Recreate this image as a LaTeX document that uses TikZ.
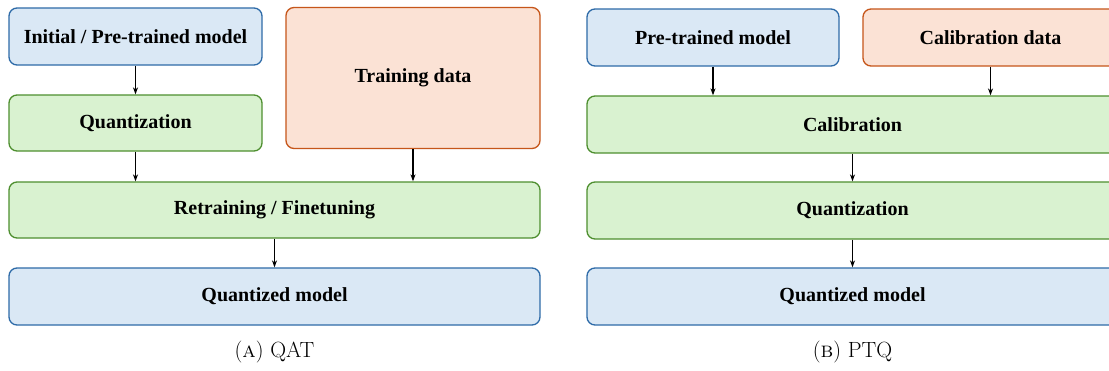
\documentclass[tikz,border=0pt]{standalone}
\usepackage{fontspec}
\newfontfamily\boxfont{Liberation Serif}
\usetikzlibrary{arrows.meta,calc}
\definecolor{bfill}{HTML}{DAE8F5}
\definecolor{bdraw}{HTML}{2E6BA8}
\definecolor{gfill}{HTML}{D9F2D0}
\definecolor{gdraw}{HTML}{4E8F2F}
\definecolor{ofill}{HTML}{FBE2D5}
\definecolor{odraw}{HTML}{C6561A}
\tikzset{
  box/.style={rectangle, rounded corners=8pt, line width=1.3pt, inner sep=0pt,
    font=\boxfont\bfseries\fontsize{20}{24}\selectfont, text=black},
  bluebox/.style={box, fill=bfill, draw=bdraw},
  greenbox/.style={box, fill=gfill, draw=gdraw},
  orangebox/.style={box, fill=ofill, draw=odraw},
  arr/.style={line width=1.3pt, -{Stealth[length=7pt,width=5pt]}},
  captext/.style={font=\fontsize{22}{26}\selectfont}
}
\begin{document}
\begin{tikzpicture}[x=1pt,y=-1pt]
\clip (0,0) rectangle (1109,370);
\fill[white] (0,0) rectangle (1109,370);
% (a) QAT
\node[bluebox, minimum width=253pt, minimum height=57pt] (init) at (135.5,36.5) {Initial / Pre-trained model};
\node[greenbox, minimum width=253pt, minimum height=56pt] (quant) at (135.5,123) {Quantization};
\node[orangebox, minimum width=254pt, minimum height=141pt] (train) at (413,78) {Training data};
\node[greenbox, minimum width=531pt, minimum height=56pt] (retrain) at (274.5,210) {Retraining / Finetuning};
\node[bluebox, minimum width=531pt, minimum height=57pt] (qmodel) at (274.5,296.5) {Quantized model};
\node[captext] (capa) at (274.5,352) {(\textsc{a}) QAT};
\draw[arr] (init.south) -- (quant.north);
\draw[arr] (quant.south) -- (quant.south |- retrain.north);
\draw[arr] (train.south) -- (train.south |- retrain.north);
\draw[arr] (retrain.south) -- (qmodel.north);
% (b) PTQ
\node[bluebox, minimum width=252pt, minimum height=57pt] (pre) at (713,37.5) {Pre-trained model};
\node[orangebox, minimum width=255pt, minimum height=57pt] (cdata) at (990.5,37.5) {Calibration data};
\node[greenbox, minimum width=531pt, minimum height=57pt] (calib) at (852.5,124.5) {Calibration};
\node[greenbox, minimum width=531pt, minimum height=57pt] (pquant) at (852.5,210.5) {Quantization};
\node[bluebox, minimum width=531pt, minimum height=57pt] (pqmodel) at (852.5,296.5) {Quantized model};
\node[captext] (capb) at (852.5,352) {(\textsc{b}) PTQ};
\draw[arr] (pre.south) -- (pre.south |- calib.north);
\draw[arr] (cdata.south) -- (cdata.south |- calib.north);
\draw[arr] (calib.south) -- (pquant.north);
\draw[arr] (pquant.south) -- (pqmodel.north);
\end{tikzpicture}
\end{document}
